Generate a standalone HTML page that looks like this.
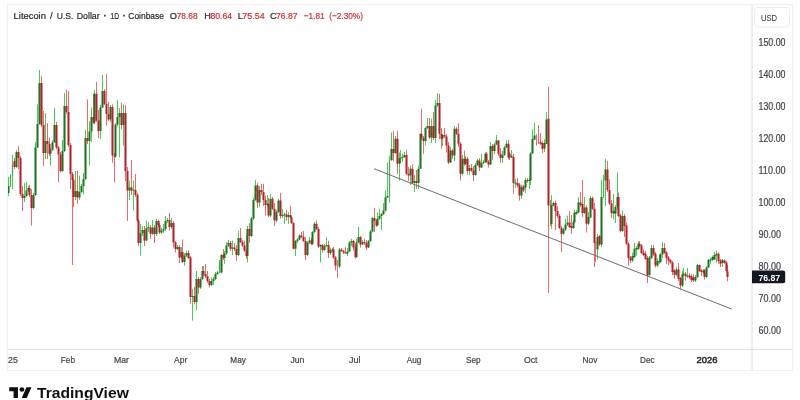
<!DOCTYPE html>
<html><head><meta charset="utf-8"><title>LTCUSD</title>
<style>
html,body{margin:0;padding:0;background:#fff;}
body{width:800px;height:400px;position:relative;overflow:hidden;font-family:"Liberation Sans",sans-serif;}
#chart{position:absolute;left:0;top:0;will-change:transform;}
#chart text{font-family:"Liberation Sans",sans-serif;}
</style></head><body>
<svg id="chart" width="800" height="400" viewBox="0 0 800 400">
<clipPath id="cp"><rect x="8" y="5" width="743.5" height="344"/></clipPath>
<clipPath id="cl"><rect x="8" y="350" width="743" height="20"/></clipPath>
<rect x="7.5" y="4.5" width="785" height="366" fill="none" stroke="#efeff2" stroke-width="1"/>
<rect x="751.4" y="5" width="1.3" height="365" fill="#e3e5ec"/>
<rect x="8" y="349" width="784" height="1" fill="#e1e3ea"/>
<rect x="754.5" y="7.5" width="35" height="19.5" rx="3.5" fill="#fff" stroke="#ebecf0" stroke-width="1"/>
<g clip-path="url(#cp)">
<path d="M8.5 177.0V196.0M10.5 174.0V187.0M12.5 155.0V189.0M16.5 150.0V168.0M24.5 183.0V202.0M26.5 182.0V197.0M28.5 186.0V192.0M33.5 193.0V209.0M35.5 142.0V196.0M37.5 104.4V148.0M39.5 70.0V125.0M45.5 113.0V159.0M50.5 148.0V165.6M52.5 140.0V151.0M54.5 108.0V143.0M62.5 140.0V172.0M64.5 93.0V152.0M75.5 171.0V200.0M79.5 175.6V200.0M81.5 184.0V193.0M83.5 173.0V194.4M85.5 130.0V180.0M89.5 121.0V165.6M91.5 107.5V142.0M94.5 90.0V124.0M100.5 105.0V139.0M102.5 75.0V108.0M110.5 105.0V122.0M115.5 123.0V158.0M117.5 100.0V126.0M119.5 108.0V157.0M123.5 104.4V145.6M129.5 180.6V200.0M133.5 180.6V210.6M140.5 224.0V255.6M142.5 226.0V236.0M146.5 220.6V241.0M148.5 222.0V232.0M152.5 220.0V235.0M156.5 218.8V236.0M161.5 228.0V234.0M163.5 224.0V233.0M165.5 216.0V231.0M167.5 218.0V223.0M171.5 218.0V229.0M177.5 245.0V250.0M181.5 247.0V259.0M184.5 253.0V265.6M186.5 250.6V257.0M192.5 288.8V320.6M196.5 271.0V310.0M200.5 277.0V289.0M202.5 266.0V280.0M211.5 277.5V286.0M213.5 277.0V285.0M215.5 272.0V280.0M217.5 271.0V275.0M219.5 260.0V273.0M221.5 254.0V273.0M224.5 251.0V263.8M226.5 242.0V255.0M228.5 240.0V247.0M232.5 240.6V255.0M238.5 231.0V256.0M247.5 226.0V262.5M251.5 216.9V237.0M253.5 197.5V220.0M255.5 180.0V201.0M259.5 186.0V207.0M267.5 195.0V207.0M270.5 194.0V217.0M276.5 210.0V222.5M278.5 198.8V213.0M282.5 209.0V218.0M284.5 213.0V223.8M288.5 212.0V223.8M295.5 240.0V256.0M297.5 238.0V243.0M299.5 234.4V240.0M307.5 241.0V256.0M309.5 237.0V244.0M312.5 231.0V245.0M314.5 222.0V233.0M320.5 244.0V262.5M324.5 244.0V251.0M326.5 237.0V247.0M330.5 247.5V255.0M332.5 248.0V252.0M339.5 248.0V268.0M347.5 248.0V256.0M349.5 241.0V252.0M351.5 238.8V246.0M356.5 238.8V258.0M358.5 227.0V243.0M362.5 240.0V245.0M368.5 240.0V248.0M370.5 230.0V242.0M372.5 216.9V232.5M377.5 212.5V226.0M379.5 208.8V220.0M381.5 213.0V230.0M383.5 203.0V215.0M385.5 190.6V211.5M387.5 162.5V198.0M389.5 156.0V203.0M391.5 132.5V161.0M395.5 136.0V154.0M399.5 152.5V180.6M400.5 150.0V163.0M402.5 154.0V162.0M404.5 152.0V158.0M410.5 165.6V185.0M414.5 175.0V192.0M418.5 165.6V188.8M420.5 133.0V169.0M425.5 127.0V145.0M427.5 118.0V129.0M431.5 118.8V143.0M435.5 100.0V143.0M437.5 93.0V107.0M442.5 134.0V146.0M450.5 147.0V163.0M454.5 126.0V161.0M462.5 155.0V175.0M465.5 156.0V165.0M469.5 165.0V175.0M475.5 163.0V176.0M477.5 159.0V166.0M481.5 153.8V168.0M483.5 160.0V164.0M485.5 152.5V163.0M490.5 142.0V165.0M494.5 143.0V154.4M496.5 135.0V145.0M502.5 151.0V163.0M504.5 146.0V156.0M506.5 140.6V148.0M511.5 150.0V158.0M515.5 178.8V188.0M521.5 185.0V198.8M525.5 178.0V193.0M529.5 178.0V189.0M530.5 152.0V185.0M532.5 129.4V154.0M534.5 122.5V140.0M544.5 139.4V152.0M546.5 112.0V144.0M551.5 195.0V228.8M553.5 202.0V206.5M563.5 227.5V235.0M565.5 218.8V231.0M567.5 215.6V226.0M573.5 220.0V229.0M574.5 210.0V223.0M576.5 210.0V215.0M578.5 197.0V213.0M584.5 197.0V214.0M588.5 212.0V225.0M590.5 196.0V218.0M597.5 234.0V259.4M601.5 180.0V247.0M603.5 175.0V198.0M605.5 158.8V206.0M613.5 194.0V219.4M615.5 205.0V223.0M617.5 172.5V210.6M622.5 210.6V232.0M632.5 252.5V262.0M634.5 243.0V258.0M636.5 246.0V255.6M638.5 241.9V250.0M649.5 256.0V276.0M651.5 245.0V259.0M657.5 258.0V267.0M659.5 254.0V264.0M660.5 253.0V263.0M662.5 242.0V258.0M676.5 267.0V276.0M682.5 271.0V287.0M683.5 268.0V276.0M687.5 268.0V278.0M695.5 275.0V282.0M697.5 264.0V278.0M703.5 269.0V274.0M706.5 266.0V278.0M708.5 259.0V268.0M710.5 258.0V263.8M712.5 255.6V261.0M714.5 252.0V260.0M716.5 250.6V262.5M722.5 259.0V267.0" stroke="#48ce52" stroke-width="1.0" fill="none"/>
<path d="M14.5 158.0V169.0M18.5 146.0V169.0M20.5 156.0V196.0M22.5 186.0V211.0M29.5 185.0V197.0M31.5 189.0V225.6M41.5 75.6V127.0M43.5 111.0V166.0M47.5 123.0V159.0M49.5 137.5V156.0M56.5 122.0V149.0M58.5 146.0V182.5M60.5 152.0V172.5M66.5 89.4V114.0M68.5 91.0V147.0M70.5 143.0V189.0M72.5 172.0V265.0M73.5 178.0V207.0M77.5 170.6V203.8M87.5 99.4V144.0M93.5 93.8V124.0M96.5 81.9V122.0M98.5 110.0V138.0M104.5 89.0V105.0M106.5 74.0V125.6M108.5 102.0V121.0M112.5 104.4V162.5M114.5 153.0V182.5M121.5 103.0V129.0M125.5 105.0V181.0M127.5 167.0V221.0M131.5 160.0V195.0M135.5 174.0V197.0M137.5 193.0V222.0M138.5 219.0V246.0M144.5 226.0V246.0M150.5 225.0V238.8M154.5 225.0V243.0M158.5 220.0V227.0M159.5 223.0V234.0M169.5 213.0V230.6M173.5 221.0V247.5M175.5 241.0V252.5M179.5 245.0V263.0M182.5 239.4V263.0M188.5 250.0V259.0M190.5 256.0V303.8M194.5 287.0V304.4M198.5 277.0V294.0M203.5 266.0V276.0M205.5 264.0V278.0M207.5 271.0V283.0M209.5 279.0V287.5M223.5 249.0V260.0M230.5 241.0V251.0M234.5 243.0V251.0M236.5 245.0V261.0M240.5 228.0V243.0M242.5 240.0V247.0M244.5 240.6V252.0M246.5 235.6V258.8M249.5 223.0V243.0M257.5 183.0V208.0M261.5 184.0V195.0M263.5 183.8V206.0M265.5 195.6V215.6M268.5 198.0V217.0M272.5 197.0V210.0M274.5 203.0V226.0M280.5 193.0V218.8M286.5 210.0V220.6M290.5 205.6V219.0M291.5 216.0V224.0M293.5 222.0V249.4M301.5 232.0V238.0M303.5 231.0V242.0M305.5 237.0V260.0M311.5 238.0V245.0M316.5 220.6V230.0M318.5 227.0V248.0M322.5 244.0V252.5M328.5 240.6V258.0M333.5 247.0V259.0M335.5 256.0V270.6M337.5 260.0V278.0M341.5 248.0V252.0M343.5 250.0V254.0M345.5 247.0V254.0M353.5 240.0V250.6M355.5 244.4V258.8M360.5 236.0V247.5M364.5 238.8V245.0M366.5 240.0V250.0M374.5 208.0V232.0M376.5 219.0V227.0M393.5 131.0V161.0M397.5 130.6V173.8M406.5 150.0V175.0M408.5 167.0V181.0M412.5 164.4V184.0M416.5 170.0V188.8M421.5 108.8V140.0M423.5 136.0V153.8M429.5 118.0V139.0M433.5 112.0V140.0M439.5 93.8V139.4M441.5 128.0V148.8M444.5 128.0V138.0M446.5 134.0V152.5M448.5 142.0V164.0M452.5 149.0V158.8M456.5 127.0V135.0M458.5 123.0V147.0M460.5 142.0V180.6M464.5 150.6V166.0M467.5 157.0V174.4M471.5 164.0V172.0M473.5 166.0V181.0M479.5 158.0V171.0M486.5 152.0V163.0M488.5 160.0V167.5M492.5 144.0V160.0M498.5 140.0V156.0M500.5 148.0V163.0M508.5 140.0V159.4M509.5 152.0V160.0M513.5 154.0V193.8M517.5 178.0V187.5M519.5 183.0V200.6M523.5 185.0V192.0M527.5 178.0V183.0M536.5 134.0V145.6M538.5 125.0V144.0M540.5 133.0V145.0M542.5 141.0V153.0M548.5 87.0V293.0M550.5 200.0V226.0M555.5 200.6V230.0M557.5 206.0V218.0M559.5 214.0V229.0M561.5 226.0V252.0M569.5 211.0V228.0M571.5 215.0V233.8M580.5 192.0V207.0M582.5 180.0V216.9M586.5 205.0V232.5M592.5 196.5V210.0M594.5 203.0V267.0M595.5 242.0V262.0M599.5 235.0V246.0M607.5 161.0V192.0M609.5 179.4V205.0M611.5 200.0V218.0M618.5 192.5V217.0M620.5 214.0V232.5M624.5 214.0V237.0M626.5 222.5V245.0M628.5 242.0V265.6M630.5 256.0V263.0M639.5 241.0V247.0M641.5 244.0V254.0M643.5 249.4V256.0M645.5 251.0V260.0M647.5 256.0V283.0M653.5 245.0V256.0M655.5 252.0V267.5M664.5 243.0V254.0M666.5 251.0V264.0M668.5 256.0V265.0M670.5 259.0V264.0M672.5 261.0V275.0M674.5 269.0V278.8M678.5 263.0V281.0M680.5 277.0V289.4M685.5 272.0V280.6M689.5 273.0V279.0M691.5 274.4V282.0M693.5 274.4V282.0M699.5 264.4V272.0M701.5 269.0V276.0M704.5 269.0V279.4M718.5 252.0V263.8M720.5 259.0V267.0M724.5 259.4V264.0M726.5 260.6V272.0M727.5 265.0V281.3" stroke="#f16a6a" stroke-width="1.0" fill="none"/>
<path d="M9.85 176.0h1.3V186.0h-1.3zM11.85 163.0h1.3V176.0h-1.3zM218.85 261.5h1.3V272.5h-1.3zM388.85 160.0h1.3V196.0h-1.3zM602.85 180.6h1.3V197.0h-1.3z" fill="#5f9c63"/>
<path d="M336.85 265.6h1.3V266.6h-1.3zM535.85 135.6h1.3V141.0h-1.3zM537.85 136.0h1.3V143.0h-1.3zM549.85 205.6h1.3V224.0h-1.3zM594.85 243.0h1.3V246.0h-1.3z" fill="#d9777d"/>
<path d="M7.47 186.0h2.05V193.0h-2.05zM15.47 152.0h2.05V167.0h-2.05zM23.48 196.0h2.05V198.0h-2.05zM25.48 190.6h2.05V196.0h-2.05zM27.48 188.0h2.05V190.6h-2.05zM32.48 195.0h2.05V208.0h-2.05zM34.48 147.5h2.05V195.0h-2.05zM36.48 124.0h2.05V147.5h-2.05zM38.48 83.0h2.05V124.0h-2.05zM44.48 141.0h2.05V153.0h-2.05zM49.48 150.0h2.05V153.7h-2.05zM51.48 142.5h2.05V150.0h-2.05zM53.48 125.0h2.05V142.5h-2.05zM61.48 151.0h2.05V171.0h-2.05zM63.48 106.0h2.05V151.0h-2.05zM74.47 191.0h2.05V197.0h-2.05zM78.47 192.0h2.05V197.5h-2.05zM80.47 186.0h2.05V192.0h-2.05zM82.47 179.0h2.05V186.0h-2.05zM84.47 138.0h2.05V179.0h-2.05zM88.47 131.5h2.05V141.0h-2.05zM90.47 117.0h2.05V131.5h-2.05zM93.47 93.8h2.05V122.5h-2.05zM99.47 107.5h2.05V131.0h-2.05zM101.47 91.0h2.05V107.5h-2.05zM109.47 107.0h2.05V119.4h-2.05zM114.47 124.4h2.05V156.5h-2.05zM116.47 117.0h2.05V124.4h-2.05zM118.47 113.0h2.05V117.0h-2.05zM122.47 113.0h2.05V125.0h-2.05zM128.47 187.5h2.05V190.6h-2.05zM132.47 189.8h2.05V190.8h-2.05zM139.47 233.0h2.05V243.0h-2.05zM141.47 230.0h2.05V233.0h-2.05zM145.47 228.0h2.05V240.6h-2.05zM147.47 227.0h2.05V228.0h-2.05zM151.47 227.5h2.05V233.8h-2.05zM155.47 221.0h2.05V234.0h-2.05zM160.47 230.5h2.05V232.5h-2.05zM162.47 229.0h2.05V230.5h-2.05zM164.47 221.0h2.05V229.0h-2.05zM166.47 220.0h2.05V221.0h-2.05zM170.47 223.0h2.05V227.0h-2.05zM176.47 247.0h2.05V249.0h-2.05zM180.47 252.0h2.05V257.5h-2.05zM183.47 255.6h2.05V262.0h-2.05zM185.47 253.0h2.05V255.6h-2.05zM191.47 296.0h2.05V297.0h-2.05zM195.47 279.0h2.05V302.0h-2.05zM199.47 279.0h2.05V287.5h-2.05zM201.47 271.0h2.05V279.0h-2.05zM210.47 281.0h2.05V285.0h-2.05zM212.47 279.0h2.05V281.0h-2.05zM214.47 274.0h2.05V279.0h-2.05zM216.47 272.5h2.05V274.0h-2.05zM220.47 255.0h2.05V272.5h-2.05zM223.47 253.5h2.05V258.0h-2.05zM225.47 245.6h2.05V253.5h-2.05zM227.47 243.0h2.05V245.6h-2.05zM231.47 247.5h2.05V248.8h-2.05zM237.47 238.0h2.05V255.0h-2.05zM246.47 229.0h2.05V256.0h-2.05zM250.47 218.5h2.05V236.0h-2.05zM252.47 200.0h2.05V218.5h-2.05zM254.47 185.6h2.05V200.0h-2.05zM258.48 190.0h2.05V202.5h-2.05zM266.48 203.8h2.05V205.0h-2.05zM269.48 198.8h2.05V215.6h-2.05zM275.48 212.0h2.05V220.6h-2.05zM277.48 200.6h2.05V212.0h-2.05zM281.48 215.0h2.05V216.0h-2.05zM283.48 214.2h2.05V215.2h-2.05zM287.48 215.0h2.05V217.0h-2.05zM294.48 241.0h2.05V248.8h-2.05zM296.48 239.5h2.05V241.0h-2.05zM298.48 235.6h2.05V239.5h-2.05zM306.48 242.5h2.05V255.0h-2.05zM308.48 240.6h2.05V242.5h-2.05zM311.48 232.0h2.05V244.0h-2.05zM313.48 223.8h2.05V232.0h-2.05zM319.48 245.0h2.05V246.5h-2.05zM323.48 246.0h2.05V250.0h-2.05zM325.48 245.0h2.05V246.0h-2.05zM329.48 250.0h2.05V253.0h-2.05zM331.48 249.2h2.05V250.2h-2.05zM338.48 249.4h2.05V266.5h-2.05zM346.48 251.5h2.05V253.5h-2.05zM348.48 242.5h2.05V251.5h-2.05zM350.48 241.0h2.05V242.5h-2.05zM355.48 242.5h2.05V257.0h-2.05zM357.48 237.0h2.05V242.5h-2.05zM361.48 242.0h2.05V244.4h-2.05zM367.48 241.0h2.05V247.5h-2.05zM369.48 231.5h2.05V241.0h-2.05zM371.48 218.0h2.05V231.5h-2.05zM376.48 218.8h2.05V225.6h-2.05zM378.48 216.0h2.05V218.8h-2.05zM380.48 214.0h2.05V216.0h-2.05zM382.48 210.6h2.05V214.0h-2.05zM384.48 197.5h2.05V210.6h-2.05zM386.48 196.0h2.05V197.5h-2.05zM390.48 149.0h2.05V160.0h-2.05zM394.48 138.8h2.05V153.0h-2.05zM398.48 158.5h2.05V163.8h-2.05zM399.48 157.5h2.05V158.5h-2.05zM401.48 156.8h2.05V157.8h-2.05zM403.48 155.0h2.05V157.0h-2.05zM409.48 168.8h2.05V175.6h-2.05zM413.48 181.0h2.05V183.0h-2.05zM417.48 168.8h2.05V183.0h-2.05zM419.48 134.0h2.05V168.8h-2.05zM424.48 128.0h2.05V141.0h-2.05zM426.48 126.0h2.05V128.0h-2.05zM430.48 126.0h2.05V137.5h-2.05zM434.48 105.6h2.05V138.0h-2.05zM436.48 103.0h2.05V105.6h-2.05zM441.48 135.0h2.05V138.8h-2.05zM449.48 150.6h2.05V162.5h-2.05zM453.48 128.8h2.05V155.6h-2.05zM461.48 158.8h2.05V173.8h-2.05zM464.48 158.8h2.05V163.8h-2.05zM468.48 168.0h2.05V171.0h-2.05zM474.48 165.0h2.05V175.0h-2.05zM476.48 160.6h2.05V165.0h-2.05zM480.48 163.0h2.05V167.5h-2.05zM482.48 162.0h2.05V163.0h-2.05zM484.48 153.8h2.05V162.0h-2.05zM489.48 146.0h2.05V164.4h-2.05zM493.48 144.4h2.05V151.0h-2.05zM495.48 140.6h2.05V144.4h-2.05zM501.48 155.0h2.05V158.0h-2.05zM503.48 147.5h2.05V155.0h-2.05zM505.48 143.8h2.05V147.5h-2.05zM510.48 155.6h2.05V157.5h-2.05zM514.48 182.5h2.05V183.8h-2.05zM520.48 187.0h2.05V195.6h-2.05zM524.48 180.0h2.05V187.5h-2.05zM528.48 180.0h2.05V181.0h-2.05zM529.48 153.5h2.05V180.6h-2.05zM531.48 139.0h2.05V153.5h-2.05zM533.48 135.6h2.05V139.4h-2.05zM543.48 143.0h2.05V148.8h-2.05zM545.48 119.4h2.05V143.8h-2.05zM550.48 205.0h2.05V224.0h-2.05zM552.48 203.0h2.05V205.6h-2.05zM562.48 229.4h2.05V233.8h-2.05zM564.48 224.4h2.05V229.4h-2.05zM566.48 222.5h2.05V224.4h-2.05zM572.48 222.0h2.05V228.0h-2.05zM573.48 212.5h2.05V222.0h-2.05zM575.48 212.0h2.05V213.8h-2.05zM577.48 202.5h2.05V212.5h-2.05zM583.48 207.5h2.05V213.0h-2.05zM587.48 217.0h2.05V223.8h-2.05zM589.48 198.0h2.05V217.5h-2.05zM596.48 237.0h2.05V249.4h-2.05zM600.48 197.0h2.05V244.4h-2.05zM604.48 169.4h2.05V180.6h-2.05zM612.48 211.0h2.05V213.5h-2.05zM614.48 207.0h2.05V213.8h-2.05zM616.48 197.0h2.05V207.0h-2.05zM621.48 216.0h2.05V231.0h-2.05zM631.48 256.0h2.05V260.6h-2.05zM633.48 248.8h2.05V257.0h-2.05zM635.48 248.0h2.05V249.5h-2.05zM637.48 243.8h2.05V248.8h-2.05zM648.48 257.5h2.05V275.0h-2.05zM650.48 248.0h2.05V258.0h-2.05zM656.48 261.0h2.05V265.6h-2.05zM658.48 261.0h2.05V262.0h-2.05zM659.48 254.4h2.05V262.0h-2.05zM661.48 248.0h2.05V254.4h-2.05zM675.48 269.4h2.05V274.7h-2.05zM681.48 274.4h2.05V285.6h-2.05zM682.48 273.6h2.05V274.6h-2.05zM686.48 275.6h2.05V276.6h-2.05zM694.48 277.0h2.05V280.6h-2.05zM696.48 265.0h2.05V277.0h-2.05zM702.48 270.6h2.05V272.5h-2.05zM705.48 267.5h2.05V277.0h-2.05zM707.48 260.0h2.05V267.5h-2.05zM709.48 259.4h2.05V260.6h-2.05zM711.48 257.0h2.05V260.0h-2.05zM713.48 255.0h2.05V259.4h-2.05zM715.48 253.8h2.05V255.6h-2.05zM721.48 260.0h2.05V263.0h-2.05z" fill="#1c7320"/>
<path d="M13.47 161.0h2.05V167.0h-2.05zM17.48 152.0h2.05V158.0h-2.05zM19.48 158.0h2.05V194.0h-2.05zM21.48 194.0h2.05V198.0h-2.05zM28.48 188.0h2.05V195.0h-2.05zM30.48 195.0h2.05V208.0h-2.05zM40.48 83.0h2.05V125.0h-2.05zM42.48 125.0h2.05V153.0h-2.05zM46.48 141.0h2.05V144.0h-2.05zM48.48 144.0h2.05V153.7h-2.05zM55.48 125.0h2.05V147.5h-2.05zM57.48 147.5h2.05V154.4h-2.05zM59.48 154.4h2.05V171.0h-2.05zM65.47 106.0h2.05V112.0h-2.05zM67.47 112.0h2.05V145.0h-2.05zM69.47 145.0h2.05V174.0h-2.05zM71.47 174.0h2.05V180.0h-2.05zM72.47 180.0h2.05V197.0h-2.05zM76.47 191.0h2.05V197.5h-2.05zM86.47 138.0h2.05V141.0h-2.05zM92.47 117.0h2.05V122.5h-2.05zM95.47 93.8h2.05V120.6h-2.05zM97.47 120.6h2.05V131.0h-2.05zM103.47 91.0h2.05V104.0h-2.05zM105.47 104.0h2.05V114.0h-2.05zM107.47 114.0h2.05V119.4h-2.05zM111.47 107.0h2.05V155.6h-2.05zM113.47 155.6h2.05V156.6h-2.05zM120.47 113.0h2.05V125.0h-2.05zM124.47 113.0h2.05V171.0h-2.05zM126.47 171.0h2.05V190.6h-2.05zM130.47 187.5h2.05V190.6h-2.05zM134.47 190.0h2.05V195.0h-2.05zM136.47 195.0h2.05V220.6h-2.05zM137.47 220.6h2.05V243.0h-2.05zM143.47 230.0h2.05V240.6h-2.05zM149.47 227.5h2.05V233.8h-2.05zM153.47 227.5h2.05V234.0h-2.05zM157.47 221.0h2.05V225.0h-2.05zM158.47 225.0h2.05V232.5h-2.05zM168.47 220.0h2.05V227.0h-2.05zM172.47 223.0h2.05V242.5h-2.05zM174.47 242.5h2.05V249.0h-2.05zM178.47 247.0h2.05V257.5h-2.05zM181.47 252.0h2.05V262.0h-2.05zM187.47 253.0h2.05V258.0h-2.05zM189.47 257.5h2.05V297.0h-2.05zM193.47 296.0h2.05V302.0h-2.05zM197.47 279.0h2.05V287.5h-2.05zM202.47 271.0h2.05V274.0h-2.05zM204.47 274.0h2.05V276.5h-2.05zM206.47 276.5h2.05V281.0h-2.05zM208.47 281.0h2.05V285.0h-2.05zM222.47 255.0h2.05V258.0h-2.05zM229.47 243.0h2.05V248.8h-2.05zM233.47 247.5h2.05V249.0h-2.05zM235.47 249.0h2.05V255.0h-2.05zM239.47 238.0h2.05V242.0h-2.05zM241.47 242.0h2.05V245.6h-2.05zM243.47 245.6h2.05V250.6h-2.05zM245.47 250.6h2.05V256.0h-2.05zM248.47 229.0h2.05V236.0h-2.05zM256.48 185.6h2.05V202.5h-2.05zM260.48 190.0h2.05V192.0h-2.05zM262.48 192.0h2.05V200.0h-2.05zM264.48 200.0h2.05V205.0h-2.05zM267.48 203.8h2.05V215.6h-2.05zM271.48 198.8h2.05V208.8h-2.05zM273.48 208.8h2.05V220.6h-2.05zM279.48 200.6h2.05V216.0h-2.05zM285.48 214.5h2.05V217.0h-2.05zM289.48 215.0h2.05V217.5h-2.05zM290.48 217.5h2.05V223.0h-2.05zM292.48 223.0h2.05V248.8h-2.05zM300.48 235.6h2.05V237.0h-2.05zM302.48 237.0h2.05V241.0h-2.05zM304.48 241.0h2.05V255.0h-2.05zM310.48 240.6h2.05V244.0h-2.05zM315.48 223.8h2.05V229.0h-2.05zM317.48 229.0h2.05V246.5h-2.05zM321.48 245.0h2.05V250.0h-2.05zM327.48 245.0h2.05V253.0h-2.05zM332.48 249.5h2.05V257.5h-2.05zM334.48 257.5h2.05V265.6h-2.05zM340.48 249.4h2.05V251.0h-2.05zM342.48 251.0h2.05V252.5h-2.05zM344.48 252.5h2.05V253.5h-2.05zM352.48 241.0h2.05V247.5h-2.05zM354.48 247.5h2.05V257.0h-2.05zM359.48 237.0h2.05V244.4h-2.05zM363.48 242.0h2.05V243.0h-2.05zM365.48 243.0h2.05V247.5h-2.05zM373.48 218.0h2.05V221.0h-2.05zM375.48 221.0h2.05V225.6h-2.05zM392.48 149.0h2.05V153.0h-2.05zM396.48 138.8h2.05V163.8h-2.05zM405.48 155.0h2.05V173.8h-2.05zM407.48 173.8h2.05V175.6h-2.05zM411.48 168.8h2.05V183.0h-2.05zM415.48 181.0h2.05V183.0h-2.05zM420.48 134.0h2.05V138.0h-2.05zM422.48 138.0h2.05V141.0h-2.05zM428.48 126.0h2.05V137.5h-2.05zM432.48 126.0h2.05V138.0h-2.05zM438.48 103.0h2.05V133.8h-2.05zM440.48 133.8h2.05V138.8h-2.05zM443.48 135.0h2.05V136.5h-2.05zM445.48 136.5h2.05V145.6h-2.05zM447.48 145.6h2.05V162.5h-2.05zM451.48 150.6h2.05V155.6h-2.05zM455.48 128.8h2.05V133.8h-2.05zM457.48 133.8h2.05V143.8h-2.05zM459.48 143.8h2.05V173.8h-2.05zM463.48 158.8h2.05V163.8h-2.05zM466.48 158.8h2.05V171.0h-2.05zM470.48 168.0h2.05V170.6h-2.05zM472.48 170.6h2.05V175.0h-2.05zM478.48 160.6h2.05V167.5h-2.05zM485.48 153.8h2.05V162.0h-2.05zM487.48 162.0h2.05V164.4h-2.05zM491.48 146.0h2.05V151.0h-2.05zM497.48 140.6h2.05V153.8h-2.05zM499.48 153.8h2.05V158.0h-2.05zM507.48 143.8h2.05V157.5h-2.05zM508.48 153.5h2.05V157.5h-2.05zM512.48 157.0h2.05V183.0h-2.05zM516.48 183.0h2.05V185.6h-2.05zM518.48 184.4h2.05V195.6h-2.05zM522.48 186.2h2.05V190.6h-2.05zM526.48 180.0h2.05V181.0h-2.05zM539.48 142.0h2.05V143.8h-2.05zM541.48 143.0h2.05V148.8h-2.05zM547.48 118.8h2.05V205.6h-2.05zM554.48 203.0h2.05V211.0h-2.05zM556.48 211.0h2.05V216.0h-2.05zM558.48 216.0h2.05V228.0h-2.05zM560.48 228.0h2.05V233.8h-2.05zM568.48 222.5h2.05V227.0h-2.05zM570.48 226.0h2.05V228.0h-2.05zM579.48 202.5h2.05V205.0h-2.05zM581.48 204.0h2.05V213.0h-2.05zM585.48 207.5h2.05V223.8h-2.05zM591.48 198.0h2.05V208.8h-2.05zM593.48 208.8h2.05V243.0h-2.05zM598.48 236.0h2.05V244.4h-2.05zM606.48 169.4h2.05V190.0h-2.05zM608.48 190.0h2.05V203.5h-2.05zM610.48 203.5h2.05V213.0h-2.05zM617.48 197.0h2.05V216.0h-2.05zM619.48 215.6h2.05V231.0h-2.05zM623.48 216.0h2.05V226.0h-2.05zM625.48 225.6h2.05V243.8h-2.05zM627.48 243.8h2.05V258.0h-2.05zM629.48 257.5h2.05V260.6h-2.05zM638.48 243.8h2.05V246.0h-2.05zM640.48 245.6h2.05V253.0h-2.05zM642.48 252.5h2.05V255.0h-2.05zM644.48 253.8h2.05V258.8h-2.05zM646.48 258.0h2.05V275.6h-2.05zM652.48 248.0h2.05V254.4h-2.05zM654.48 253.8h2.05V265.6h-2.05zM663.48 248.0h2.05V253.0h-2.05zM665.48 252.5h2.05V258.0h-2.05zM667.48 257.5h2.05V260.6h-2.05zM669.48 260.0h2.05V262.5h-2.05zM671.48 262.5h2.05V272.0h-2.05zM673.48 270.6h2.05V274.7h-2.05zM677.48 269.4h2.05V278.8h-2.05zM679.48 278.0h2.05V285.6h-2.05zM684.48 273.8h2.05V276.2h-2.05zM688.48 275.6h2.05V277.5h-2.05zM690.48 276.2h2.05V280.0h-2.05zM692.48 277.5h2.05V280.6h-2.05zM698.48 265.0h2.05V271.0h-2.05zM700.48 270.6h2.05V272.0h-2.05zM703.48 270.6h2.05V277.0h-2.05zM717.48 253.8h2.05V261.0h-2.05zM719.48 260.6h2.05V263.8h-2.05zM723.48 260.6h2.05V263.0h-2.05zM725.48 262.5h2.05V271.0h-2.05zM726.48 271.2h2.05V277.0h-2.05z" fill="#b2222d"/>
<line x1="374" y1="168.7" x2="731.8" y2="309.1" stroke="#63666f" stroke-width="0.95"/>
</g>
<path d="M752 270.5h31.2a2 2 0 0 1 2 2v8.8a2 2 0 0 1 -2 2H752z" fill="#131722"/>
<text x="13.6" y="18.6" font-size="9.7" fill="#2b2b2e" text-anchor="start" font-weight="normal" textLength="32.3" lengthAdjust="spacingAndGlyphs" stroke="#2b2b2e" stroke-width="0.22">Litecoin</text>
<text x="50.1" y="18.6" font-size="9.7" fill="#2b2b2e" text-anchor="start" font-weight="normal" stroke="#2b2b2e" stroke-width="0.22">/</text>
<text x="56.7" y="18.6" font-size="9.7" fill="#2b2b2e" text-anchor="start" font-weight="normal" textLength="16.7" lengthAdjust="spacingAndGlyphs" stroke="#2b2b2e" stroke-width="0.22">U.S.</text>
<text x="76.7" y="18.6" font-size="9.7" fill="#2b2b2e" text-anchor="start" font-weight="normal" textLength="23.0" lengthAdjust="spacingAndGlyphs" stroke="#2b2b2e" stroke-width="0.22">Dollar</text>
<text x="105.0" y="18.6" font-size="9.7" fill="#2b2b2e" text-anchor="middle" font-weight="bold" stroke="#2b2b2e" stroke-width="0.22">·</text>
<text x="110.4" y="18.6" font-size="9.7" fill="#2b2b2e" text-anchor="start" font-weight="normal" textLength="8.6" lengthAdjust="spacingAndGlyphs" stroke="#2b2b2e" stroke-width="0.22">1D</text>
<text x="124.0" y="18.6" font-size="9.7" fill="#2b2b2e" text-anchor="middle" font-weight="bold" stroke="#2b2b2e" stroke-width="0.22">·</text>
<text x="128.3" y="18.6" font-size="9.7" fill="#2b2b2e" text-anchor="start" font-weight="normal" textLength="35.7" lengthAdjust="spacingAndGlyphs" stroke="#2b2b2e" stroke-width="0.22">Coinbase</text>
<text x="169.8" y="18.6" font-size="9.2" fill="#2b2b2e" text-anchor="start" font-weight="normal" stroke="#2b2b2e" stroke-width="0.22">O</text>
<text x="176.70000000000002" y="18.6" font-size="9.2" fill="#d12f38" text-anchor="start" font-weight="normal" textLength="21.0" lengthAdjust="spacingAndGlyphs" stroke="#d12f38" stroke-width="0.22">78.68</text>
<text x="204.2" y="18.6" font-size="9.2" fill="#2b2b2e" text-anchor="start" font-weight="normal" stroke="#2b2b2e" stroke-width="0.22">H</text>
<text x="210.39999999999998" y="18.6" font-size="9.2" fill="#d12f38" text-anchor="start" font-weight="normal" textLength="21.7" lengthAdjust="spacingAndGlyphs" stroke="#d12f38" stroke-width="0.22">80.64</text>
<text x="237.7" y="18.6" font-size="9.2" fill="#2b2b2e" text-anchor="start" font-weight="normal" stroke="#2b2b2e" stroke-width="0.22">L</text>
<text x="242.29999999999998" y="18.6" font-size="9.2" fill="#d12f38" text-anchor="start" font-weight="normal" textLength="22.299999999999997" lengthAdjust="spacingAndGlyphs" stroke="#d12f38" stroke-width="0.22">75.54</text>
<text x="270.0" y="18.6" font-size="9.2" fill="#2b2b2e" text-anchor="start" font-weight="normal" stroke="#2b2b2e" stroke-width="0.22">C</text>
<text x="276.1" y="18.6" font-size="9.2" fill="#d12f38" text-anchor="start" font-weight="normal" textLength="21.4" lengthAdjust="spacingAndGlyphs" stroke="#d12f38" stroke-width="0.22">76.87</text>
<text x="303.8" y="18.6" font-size="9.2" fill="#d12f38" text-anchor="start" font-weight="normal" textLength="20.8" lengthAdjust="spacingAndGlyphs" stroke="#d12f38" stroke-width="0.22">−1.81</text>
<text x="329.2" y="18.6" font-size="9.2" fill="#d12f38" text-anchor="start" font-weight="normal" textLength="33.8" lengthAdjust="spacingAndGlyphs" stroke="#d12f38" stroke-width="0.22">(−2.30%)</text>
<text x="758.5" y="46.3" font-size="10.0" fill="#43454d" text-anchor="start" font-weight="normal" textLength="27.0" lengthAdjust="spacingAndGlyphs" stroke="#43454d" stroke-width="0.22">150.00</text>
<text x="758.5" y="78.3" font-size="10.0" fill="#43454d" text-anchor="start" font-weight="normal" textLength="27.0" lengthAdjust="spacingAndGlyphs" stroke="#43454d" stroke-width="0.22">140.00</text>
<text x="758.5" y="110.3" font-size="10.0" fill="#43454d" text-anchor="start" font-weight="normal" textLength="27.0" lengthAdjust="spacingAndGlyphs" stroke="#43454d" stroke-width="0.22">130.00</text>
<text x="758.5" y="142.3" font-size="10.0" fill="#43454d" text-anchor="start" font-weight="normal" textLength="27.0" lengthAdjust="spacingAndGlyphs" stroke="#43454d" stroke-width="0.22">120.00</text>
<text x="758.5" y="174.3" font-size="10.0" fill="#43454d" text-anchor="start" font-weight="normal" textLength="27.0" lengthAdjust="spacingAndGlyphs" stroke="#43454d" stroke-width="0.22">110.00</text>
<text x="758.5" y="206.3" font-size="10.0" fill="#43454d" text-anchor="start" font-weight="normal" textLength="27.0" lengthAdjust="spacingAndGlyphs" stroke="#43454d" stroke-width="0.22">100.00</text>
<text x="758.5" y="238.3" font-size="10.0" fill="#43454d" text-anchor="start" font-weight="normal" textLength="22.4" lengthAdjust="spacingAndGlyphs" stroke="#43454d" stroke-width="0.22">90.00</text>
<text x="758.5" y="270.3" font-size="10.0" fill="#43454d" text-anchor="start" font-weight="normal" textLength="22.4" lengthAdjust="spacingAndGlyphs" stroke="#43454d" stroke-width="0.22">80.00</text>
<text x="758.5" y="302.3" font-size="10.0" fill="#43454d" text-anchor="start" font-weight="normal" textLength="22.4" lengthAdjust="spacingAndGlyphs" stroke="#43454d" stroke-width="0.22">70.00</text>
<text x="758.5" y="334.3" font-size="10.0" fill="#43454d" text-anchor="start" font-weight="normal" textLength="22.4" lengthAdjust="spacingAndGlyphs" stroke="#43454d" stroke-width="0.22">60.00</text>
<text transform="translate(769,20.7) scale(0.78,1)" font-size="9.8" fill="#2f3036" text-anchor="middle">USD</text>
<text x="67.9" y="363.0" font-size="9.5" fill="#43454d" text-anchor="middle" font-weight="normal" textLength="14.2" lengthAdjust="spacingAndGlyphs" stroke="#43454d" stroke-width="0.22">Feb</text>
<text x="121.4" y="363.0" font-size="9.5" fill="#43454d" text-anchor="middle" font-weight="normal" textLength="15" lengthAdjust="spacingAndGlyphs" stroke="#43454d" stroke-width="0.22">Mar</text>
<text x="180.7" y="363.0" font-size="9.5" fill="#43454d" text-anchor="middle" font-weight="normal" textLength="13.2" lengthAdjust="spacingAndGlyphs" stroke="#43454d" stroke-width="0.22">Apr</text>
<text x="238.1" y="363.0" font-size="9.5" fill="#43454d" text-anchor="middle" font-weight="normal" textLength="15.5" lengthAdjust="spacingAndGlyphs" stroke="#43454d" stroke-width="0.22">May</text>
<text x="297.4" y="363.0" font-size="9.5" fill="#43454d" text-anchor="middle" font-weight="normal" textLength="14" lengthAdjust="spacingAndGlyphs" stroke="#43454d" stroke-width="0.22">Jun</text>
<text x="354.7" y="363.0" font-size="9.5" fill="#43454d" text-anchor="middle" font-weight="normal" textLength="11.5" lengthAdjust="spacingAndGlyphs" stroke="#43454d" stroke-width="0.22">Jul</text>
<text x="414.0" y="363.0" font-size="9.5" fill="#43454d" text-anchor="middle" font-weight="normal" textLength="14.5" lengthAdjust="spacingAndGlyphs" stroke="#43454d" stroke-width="0.22">Aug</text>
<text x="473.3" y="363.0" font-size="9.5" fill="#43454d" text-anchor="middle" font-weight="normal" textLength="14.5" lengthAdjust="spacingAndGlyphs" stroke="#43454d" stroke-width="0.22">Sep</text>
<text x="530.7" y="363.0" font-size="9.5" fill="#43454d" text-anchor="middle" font-weight="normal" textLength="13.5" lengthAdjust="spacingAndGlyphs" stroke="#43454d" stroke-width="0.22">Oct</text>
<text x="589.9" y="363.0" font-size="9.5" fill="#43454d" text-anchor="middle" font-weight="normal" textLength="14.8" lengthAdjust="spacingAndGlyphs" stroke="#43454d" stroke-width="0.22">Nov</text>
<text x="647.3" y="363.0" font-size="9.5" fill="#43454d" text-anchor="middle" font-weight="normal" textLength="14.5" lengthAdjust="spacingAndGlyphs" stroke="#43454d" stroke-width="0.22">Dec</text>
<text x="707.0" y="363.0" font-size="9.5" fill="#2a2c33" text-anchor="middle" font-weight="normal" textLength="21.0" lengthAdjust="spacingAndGlyphs" stroke="#2a2c33" stroke-width="0.5">2026</text>
<text x="8.0" y="363.0" font-size="9.5" fill="#43454d" text-anchor="middle" font-weight="normal" textLength="19.6" lengthAdjust="spacingAndGlyphs" clip-path="url(#cl)" stroke="#43454d" stroke-width="0.22">2025</text>
<text x="758.4" y="280.7" font-size="9.4" font-weight="bold" fill="#fff" textLength="21.8" lengthAdjust="spacingAndGlyphs">76.87</text>
<g transform="translate(9.2,384.75) scale(0.626,0.6)"><path fill="#0e0f12" d="M14 22H7V11H0V4h14v18zM28 22h-8l7.5-18h8L28 22z"/><circle fill="#0e0f12" cx="20.3" cy="7.8" r="3.8"/></g>
<text x="37.0" y="397.8" font-size="14.3" font-weight="bold" fill="#0e0f12" textLength="91.8" lengthAdjust="spacingAndGlyphs">TradingView</text>
</svg>
</body></html>
